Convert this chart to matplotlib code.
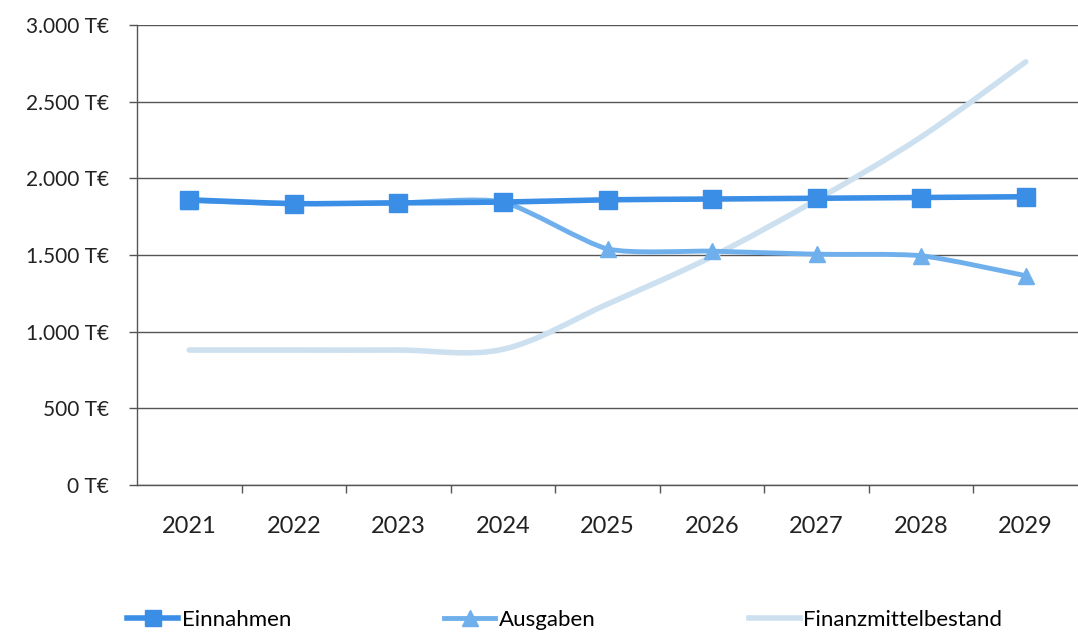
import numpy as np
import matplotlib
matplotlib.use("Agg")
import matplotlib.pyplot as plt
from matplotlib.path import Path
from matplotlib.patches import PathPatch
from matplotlib.lines import Line2D

# Daten (T€)
jahre = ["2021", "2022", "2023", "2024", "2025", "2026", "2027", "2028", "2029"]
einnahmen = [1860, 1835, 1840, 1845, 1860, 1865, 1870, 1875, 1880]
ausgaben = [1855, 1835, 1840, 1845, 1540, 1525, 1505, 1495, 1365]
finanzmittel = [880, 880, 880, 885, 1180, 1490, 1860, 2270, 2760]

c_ein = "#3a8ee6"
c_aus = "#6fb0ec"
c_fin = "#cde0f0"
schrift = ["Lato", "DejaVu Sans"]


def glatte_linie(ax, xs, ys, color, lw, z, k=6.0):
    # Excel-artige geglaettete Linie als Bezier-Pfad
    pts = np.column_stack([xs, ys]).astype(float)
    verts = [pts[0]]
    codes = [Path.MOVETO]
    n = len(pts)
    for i in range(n - 1):
        p0 = pts[max(i - 1, 0)]
        p1 = pts[i]
        p2 = pts[i + 1]
        p3 = pts[min(i + 2, n - 1)]
        c1 = p1 + (p2 - p0) / k
        c2 = p2 - (p3 - p1) / k
        verts += [c1, c2, p2]
        codes += [Path.CURVE4] * 3
    patch = PathPatch(Path(verts, codes), facecolor="none", edgecolor=color,
                      lw=lw, zorder=z, capstyle="round", joinstyle="round")
    ax.add_patch(patch)


fig = plt.figure(figsize=(10.78, 6.36), dpi=100)
ax = fig.add_axes([137 / 1078, 1 - 485 / 636, 1 - 137 / 1078, (485 - 25) / 636])

x = np.arange(len(jahre))

glatte_linie(ax, x, finanzmittel, c_fin, 4, 2)
glatte_linie(ax, x, ausgaben, c_aus, 3.5, 3, k=9.0)
ax.plot(x, ausgaben, ls="none", marker="^", ms=12, color=c_aus, zorder=4)
glatte_linie(ax, x, einnahmen, c_ein, 4, 5, k=9.0)
ax.plot(x, einnahmen, ls="none", marker="s", ms=12.5, color=c_ein, zorder=6)

ax.set_xlim(-0.5, len(jahre) - 0.5)
ax.set_ylim(0, 3000)
ax.set_yticks(np.arange(0, 3001, 500))
ax.set_yticklabels([f"{v:,.0f}".replace(",", ".") + " T€" for v in range(0, 3001, 500)],
                   fontsize=15, family=schrift, color="#222222")
ax.set_xticks(x)
ax.set_xticklabels(jahre, fontsize=17, family=schrift, color="#222222")
ax.set_xticks(np.arange(0.5, len(jahre) - 0.5, 1), minor=True)
ax.tick_params(axis="x", which="major", length=0, pad=22)
ax.tick_params(axis="x", which="minor", length=6, width=1, color="#555555", direction="out")
ax.tick_params(axis="y", length=6, width=1, color="#555555", pad=14)

ax.grid(axis="y", color="#555555", lw=1)
ax.set_axisbelow(True)
for s in ["top", "right"]:
    ax.spines[s].set_visible(False)
for s in ["left", "bottom"]:
    ax.spines[s].set_color("#555555")
    ax.spines[s].set_linewidth(1)

handles = [
    Line2D([], [], color=c_ein, lw=4, marker="s", ms=11),
    Line2D([], [], color=c_aus, lw=3.5, marker="^", ms=11),
    Line2D([], [], color=c_fin, lw=4),
]
fig.legend(handles, ["Einnahmen", "Ausgaben", "Finanzmittelbestand"],
           loc="center left", bbox_to_anchor=(116 / 1078, 1 - 620 / 636), ncol=3,
           frameon=False, borderpad=0, handlelength=2.3, handletextpad=0.15,
           columnspacing=6.9, prop={"family": schrift, "size": 16})

fig.savefig("out.png", dpi=100)
